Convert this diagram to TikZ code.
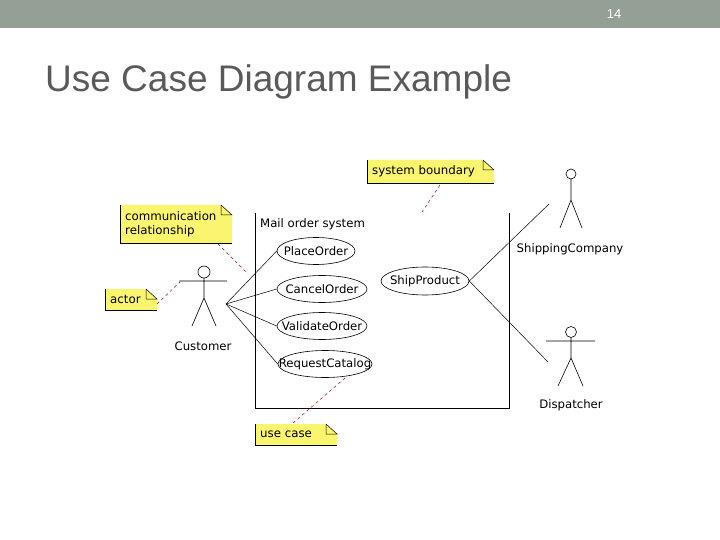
\documentclass[tikz,border=0pt]{standalone}
\usepackage{fontspec}
\setmainfont{DejaVu Sans}
\newfontfamily\titlefont{Liberation Sans}
\usetikzlibrary{shapes.geometric}
\definecolor{noteyel}{RGB}{250,245,110}
\definecolor{hdr}{RGB}{148,160,150}
\definecolor{ttl}{RGB}{90,90,90}
\begin{document}
\begin{tikzpicture}[x=1pt,y=-1pt,
  uc/.style={draw,ellipse,line width=0.6pt,inner sep=0pt},
  lbl/.style={font=\fontsize{11.7}{13}\selectfont,inner sep=0pt},
  notetxt/.style={font=\fontsize{11.8}{14}\selectfont,align=left,inner sep=0pt,anchor=west},
  anno/.style={red!70!black,dashed,line width=0.5pt},
  assoc/.style={line width=0.5pt},
  fig/.style={line width=0.6pt}]
\useasboundingbox (0,0) rectangle (720,540);
\fill[white] (0,0) rectangle (720,540);
\fill[hdr] (0,0) rectangle (720,28);
\node[font=\titlefont\fontsize{13}{15}\selectfont,text=white] (pg) at (614,14) {14};
\node[font=\titlefont\fontsize{37}{40}\selectfont,text=ttl,anchor=west,inner sep=0pt] (title) at (45,82) {Use Case Diagram Example};
% notes
\newcommand\ynote[5]{% name,x1,y1,x2,y2
  \fill[noteyel] (#2,#3) -- (#4-11,#3) -- (#4,#3+10) -- (#4,#5) -- (#2,#5) -- cycle;
  \draw[line width=0.5pt] (#4-11,#3) -- (#4-11,#3+10) -- (#4,#3+10) -- (#4-11,#3) ;
  \draw[line width=0.5pt] (#2,#5) -- (#4,#5);
  \draw[line width=0.5pt] (#2,#3) -- (#2,#5);
  \coordinate (#1) at (#2+5,#3/2+#5/2);}
\ynote{nsb}{367}{160}{494}{183}
\node[notetxt] (tsb) at (nsb) {system boundary};
\ynote{ncr}{120}{205}{232}{243}
\node[notetxt] (tcr) at (ncr) {communication\\relationship};
\ynote{nac}{105}{289}{157}{310}
\node[notetxt] (tac) at (nac) {actor};
\ynote{nuc}{255}{424}{337}{445}
\node[notetxt] (tuc) at (nuc) {use case};
% boundary
\draw[line width=0.8pt] (255,213) -- (255,408) -- (509,408) -- (509,213);
\node[lbl,anchor=west] (sys) at (260,224) {Mail order system};
% use cases
\node[uc,minimum width=78pt,minimum height=27pt] (po) at (316,251) {};
\node[lbl] (tpo) at (po) {PlaceOrder};
\node[uc,minimum width=90pt,minimum height=27pt] (co) at (322,289) {};
\node[lbl] (tco) at (co) {CancelOrder};
\node[uc,minimum width=90pt,minimum height=27pt] (vo) at (322,326) {};
\node[lbl] (tvo) at (vo) {ValidateOrder};
\node[uc,minimum width=94pt,minimum height=27pt] (rc) at (325,364) {};
\node[lbl] (trc) at (rc) {RequestCatalog};
\node[uc,minimum width=88pt,minimum height=28pt] (sp) at (425,281) {};
\node[lbl] (tsp) at (sp) {ShipProduct};
% customer
\draw[fig] (204,272) circle (6);
\draw[fig] (204,278) -- (204,298) (179,281) -- (227,281) (192,326) -- (204,298) -- (216,326);
\node[lbl] (cust) at (203,346) {Customer};
\coordinate (ch) at (226,304);
% shipping company
\draw[fig] (571,174) circle (5);
\draw[fig] (571,179) -- (571,200) (560,228) -- (571,200) -- (582,228);
\node[lbl] (ship) at (570,249) {ShippingCompany};
\coordinate (sh) at (549,204);
% dispatcher
\draw[fig] (571,332) circle (5.5);
\draw[fig] (571,337.5) -- (571,358) (546,341) -- (595,341) (558,386) -- (571,358) -- (583,386);
\node[lbl] (disp) at (571,405) {Dispatcher};
\coordinate (dh) at (548,362);
% associations
\draw[assoc] (ch) -- (po.west);
\draw[assoc] (ch) -- (co.west);
\draw[assoc] (ch) -- (vo.west);
\draw[assoc] (ch) -- (rc.west);
\draw[assoc] (sp.east) -- (sh);
\draw[assoc] (sp.east) -- (dh);
% annotation links
\draw[anno] (440,185) -- (422,212);
\draw[anno] (218,244) -- (248,274);
\draw[anno] (157,304) -- (180,282);
\draw[anno] (293,423) -- (345,378);
\end{tikzpicture}
\end{document}
